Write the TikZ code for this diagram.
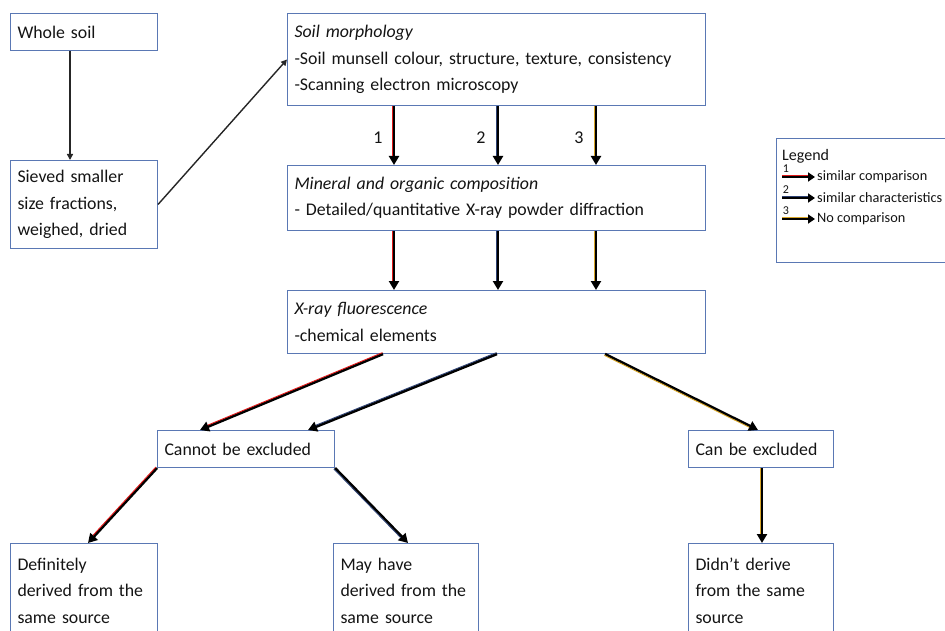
\documentclass[tikz,border=0pt]{standalone}
\usepackage{fontspec}
\setmainfont{Carlito}
\usetikzlibrary{arrows.meta,calc}
\definecolor{boxc}{RGB}{90,120,180}
\definecolor{txt}{RGB}{20,20,20}
\definecolor{eRed}{RGB}{225,25,25}
\definecolor{eBlue}{RGB}{45,65,115}
\definecolor{eGold}{RGB}{215,165,40}
\tikzset{
  box/.style={draw=boxc, line width=1pt, anchor=north west, align=left,
    inner xsep=7pt, inner ysep=0pt, text=txt, font=\fontsize{17.8}{26.5}\selectfont},
  thinarr/.style={draw=black!85, line width=1.4pt, -{Triangle[width=6pt,length=6pt]}},
  arr/.style={draw=black, line width=2.6pt, -{Triangle[width=10pt,length=9pt]}},
  legarr/.style={draw=black, line width=3pt, -{Triangle[width=9pt,length=7pt]}},
  num/.style={text=txt, font=\fontsize{18}{20}\selectfont},
  legtxt/.style={text=txt, anchor=west, inner sep=0pt, font=\fontsize{14.3}{16}\selectfont},
  legnum/.style={text=txt, inner sep=0pt, font=\fontsize{12}{13}\selectfont}
}
\newcommand\edgearrow[3]{%
  \draw[arr] (#2) -- (#3);
  \draw[#1, line width=0.9pt, shorten >=9pt] ($(#2)!1.5pt!-90:(#3)$) -- ($(#3)!1.5pt!90:(#2)$);
}
\begin{document}
\begin{tikzpicture}[x=1pt,y=-1pt]
\fill[white] (0,0) rectangle (945,631);
\useasboundingbox (0,0) rectangle (945,631);

% boxes
\node[box, minimum width=147pt, minimum height=37pt, text width=133pt] (whole) at (10,13) {Whole soil};
\node[box, minimum width=147pt, minimum height=88pt, text width=133pt] (sieved) at (10,160)
  {Sieved smaller\\size fractions,\\weighed, dried};
\node[box, minimum width=418pt, minimum height=92pt, text width=404pt] (morph) at (287,13)
  {\textit{Soil morphology}\\-Soil munsell colour, structure, texture, consistency\\-Scanning electron microscopy};
\node[box, minimum width=418pt, minimum height=65pt, text width=404pt] (mineral) at (287,165)
  {\textit{Mineral and organic composition}\\- Detailed/quantitative X-ray powder diffraction};
\node[box, minimum width=418pt, minimum height=63pt, text width=404pt] (xrf) at (287,290)
  {\textit{X-ray fluorescence}\\-chemical elements};
\node[box, minimum width=177pt, minimum height=37pt, text width=163pt] (cannot) at (157,430) {Cannot be excluded};
\node[box, minimum width=145pt, minimum height=37pt, text width=131pt] (can) at (688,430) {Can be excluded};
\node[box, minimum width=147pt, minimum height=94pt, text width=133pt] (defin) at (10,543)
  {Definitely\\derived from the\\same source};
\node[box, minimum width=145pt, minimum height=94pt, text width=131pt] (may) at (333,543)
  {May have\\derived from the\\same source};
\node[box, minimum width=145pt, minimum height=94pt, text width=131pt] (didnt) at (688,543)
  {Didn’t derive\\from the same\\source};
\node[box, minimum width=200pt, minimum height=124pt, text width=186pt] (legend) at (776,138) {};

% column helpers
\coordinate (c0) at (70,0);
\coordinate (c1) at (394,0);
\coordinate (c2) at (498,0);
\coordinate (c3) at (596,0);
\coordinate (d1) at (383,0);
\coordinate (d2) at (497,0);
\coordinate (d3) at (605,0);
\coordinate (e1) at (200,0);
\coordinate (e2) at (308,0);
\coordinate (e3) at (758,0);
\coordinate (f1) at (88,0);
\coordinate (f2) at (408,0);
\coordinate (f3) at (762,0);

% thin arrows
\draw[thinarr] (whole.south -| c0) -- (sieved.north -| c0);
\draw[thinarr] (sieved.east) -- (morph.west);

% morph -> mineral
\coordinate (m1s) at (morph.south -| c1); \coordinate (m1e) at (mineral.north -| c1);
\coordinate (m2s) at (morph.south -| c2); \coordinate (m2e) at (mineral.north -| c2);
\coordinate (m3s) at (morph.south -| c3); \coordinate (m3e) at (mineral.north -| c3);
\edgearrow{eRed}{m1s}{m1e}
\edgearrow{eBlue}{m2s}{m2e}
\edgearrow{eGold}{m3s}{m3e}
\node[num] (n1) at (378,138) {1};
\node[num] (n2) at (481,138) {2};
\node[num] (n3) at (579,138) {3};

% mineral -> xrf
\coordinate (x1s) at (mineral.south -| c1); \coordinate (x1e) at (xrf.north -| c1);
\coordinate (x2s) at (mineral.south -| c2); \coordinate (x2e) at (xrf.north -| c2);
\coordinate (x3s) at (mineral.south -| c3); \coordinate (x3e) at (xrf.north -| c3);
\edgearrow{eRed}{x1s}{x1e}
\edgearrow{eBlue}{x2s}{x2e}
\edgearrow{eGold}{x3s}{x3e}

% xrf -> decisions
\coordinate (y1s) at (xrf.south -| d1); \coordinate (y1e) at (cannot.north -| e1);
\coordinate (y2s) at (xrf.south -| d2); \coordinate (y2e) at (cannot.north -| e2);
\coordinate (y3s) at (xrf.south -| d3); \coordinate (y3e) at (can.north -| e3);
\edgearrow{eRed}{y1s}{y1e}
\edgearrow{eBlue}{y2s}{y2e}
\edgearrow{eGold}{y3s}{y3e}

% decisions -> outcomes
\coordinate (z1e) at (defin.north -| f1);
\coordinate (z2e) at (may.north -| f2);
\coordinate (z3s) at (can.south -| f3); \coordinate (z3e) at (didnt.north -| f3);
\edgearrow{eRed}{cannot.south west}{z1e}
\edgearrow{eBlue}{cannot.south east}{z2e}
\edgearrow{eGold}{z3s}{z3e}

% legend
\node[anchor=west, inner sep=0pt, text=txt, font=\fontsize{16}{18}\selectfont] (legt) at (782,156) {Legend};
\coordinate (l1s) at (782,177); \coordinate (l1e) at (815,177);
\coordinate (l2s) at (782,198); \coordinate (l2e) at (815,198);
\coordinate (l3s) at (782,219); \coordinate (l3e) at (815,219);
\foreach \s/\e/\c in {l1s/l1e/eRed, l2s/l2e/eBlue, l3s/l3e/eGold}{
  \draw[legarr] (\s) -- (\e);
  \draw[\c, line width=1pt, shorten >=7pt] ($(\s)!1.8pt!90:(\e)$) -- ($(\e)!1.8pt!-90:(\s)$);
}
\node[legnum] (ln1) at (786,169) {1};
\node[legnum] (ln2) at (786,190) {2};
\node[legnum] (ln3) at (786,211) {3};
\node[legtxt] (lt1) at (817,177) {similar comparison};
\node[legtxt] (lt2) at (817,198) {similar characteristics};
\node[legtxt] (lt3) at (817,219) {No comparison};
\end{tikzpicture}
\end{document}
